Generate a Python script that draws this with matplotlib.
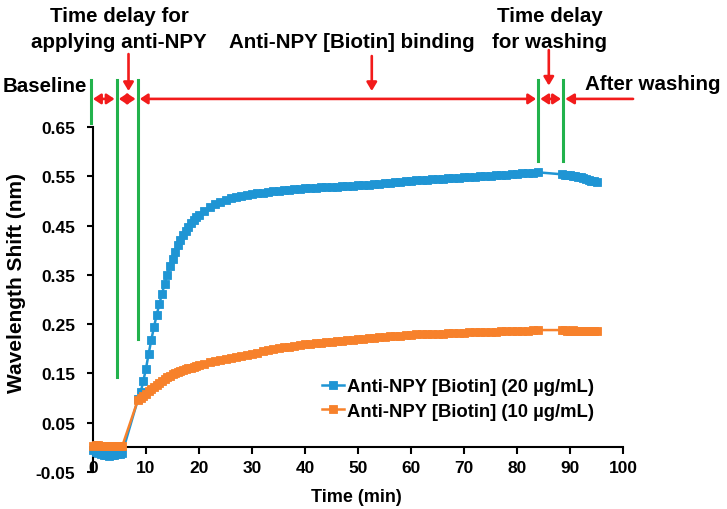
import matplotlib
matplotlib.use("Agg")
import matplotlib.pyplot as plt

plt.rcParams['font.family'] = ['Liberation Sans', 'DejaVu Sans']
plt.rcParams['font.weight'] = 'bold'

# ---------------- data ----------------
time_baseline = [0, 0.5, 1, 1.5, 2, 2.5, 3, 3.5, 4, 4.5, 5, 5.5]
time_rise = [8.5, 9, 9.5, 10, 10.5, 11, 11.5, 12, 12.5, 13, 13.5, 14, 14.5, 15,
             15.5, 16, 16.5, 17, 17.5, 18, 18.5, 19, 19.5, 20]
time_plateau = [21, 22, 23, 24, 25, 26, 27, 28, 29, 30, 31, 32, 33, 34, 35, 36,
                37, 38, 39, 40, 41, 42, 43, 44, 45, 46, 47, 48, 49, 50, 51, 52,
                53, 54, 55, 56, 57, 58, 59, 60, 61, 62, 63, 64, 65, 66, 67, 68,
                69, 70, 71, 72, 73, 74, 75, 76, 77, 78, 79, 80, 81, 82, 83, 84]
time_after = [88.5, 89, 89.5, 90, 90.5, 91, 91.5, 92, 92.5, 93, 93.5, 94, 94.5, 95]

shift20_baseline = [-0.006, -0.009, -0.011, -0.013, -0.015, -0.016, -0.017, -0.016,
                    -0.015, -0.014, -0.013, -0.012]
shift20_rise = [0.098, 0.112, 0.135, 0.160, 0.190, 0.218, 0.244, 0.268, 0.290, 0.311,
                0.331, 0.350, 0.367, 0.383, 0.397, 0.410, 0.421, 0.431, 0.440, 0.448,
                0.455, 0.461, 0.467, 0.472]
shift20_plateau = [0.480, 0.487, 0.493, 0.498, 0.502, 0.505, 0.508, 0.510, 0.512, 0.514,
                   0.516, 0.517, 0.518, 0.520, 0.521, 0.522, 0.523, 0.524, 0.525, 0.526,
                   0.526, 0.527, 0.528, 0.528, 0.529, 0.529, 0.530, 0.531, 0.531, 0.532,
                   0.533, 0.533, 0.534, 0.535, 0.536, 0.537, 0.538, 0.539, 0.540, 0.541,
                   0.542, 0.542, 0.543, 0.544, 0.544, 0.545, 0.546, 0.546, 0.547, 0.548,
                   0.548, 0.549, 0.550, 0.550, 0.551, 0.552, 0.552, 0.553, 0.554, 0.555,
                   0.556, 0.556, 0.557, 0.558]
shift20_after = [0.554, 0.553, 0.553, 0.552, 0.551, 0.550, 0.549, 0.548, 0.546, 0.545,
                 0.543, 0.541, 0.540, 0.538]

shift10_baseline = [0.003, 0.004, 0.004, 0.003, 0.003, 0.002, 0.003, 0.003, 0.002,
                    0.002, 0.003, 0.002]
shift10_rise = [0.097, 0.100, 0.104, 0.109, 0.114, 0.119, 0.123, 0.127, 0.131, 0.135,
                0.139, 0.142, 0.145, 0.148, 0.150, 0.153, 0.155, 0.157, 0.159, 0.161,
                0.162, 0.164, 0.165, 0.167]
shift10_plateau = [0.170, 0.173, 0.175, 0.177, 0.179, 0.182, 0.184, 0.186, 0.188, 0.190,
                   0.192, 0.195, 0.197, 0.199, 0.201, 0.203, 0.204, 0.206, 0.208, 0.209,
                   0.210, 0.211, 0.212, 0.213, 0.214, 0.215, 0.216, 0.217, 0.218, 0.219,
                   0.220, 0.221, 0.222, 0.223, 0.224, 0.225, 0.226, 0.226, 0.227, 0.228,
                   0.229, 0.229, 0.230, 0.230, 0.231, 0.231, 0.232, 0.232, 0.233, 0.233,
                   0.234, 0.234, 0.234, 0.235, 0.235, 0.235, 0.236, 0.236, 0.236, 0.237,
                   0.237, 0.237, 0.238, 0.238]
shift10_after = [0.238, 0.238, 0.237, 0.237, 0.238, 0.237, 0.236, 0.237, 0.237, 0.236,
                 0.237, 0.237, 0.236, 0.237]

time_min = time_baseline + time_rise + time_plateau + time_after
shift_20 = shift20_baseline + shift20_rise + shift20_plateau + shift20_after
shift_10 = shift10_baseline + shift10_rise + shift10_plateau + shift10_after

series_labels = ["Anti-NPY [Biotin] (20 µg/mL)", "Anti-NPY [Biotin] (10 µg/mL)"]
x_ticks = [0, 10, 20, 30, 40, 50, 60, 70, 80, 90, 100]
y_ticks = [-0.05, 0.05, 0.15, 0.25, 0.35, 0.45, 0.55, 0.65]
y_tick_labels = ["-0.05", "0.05", "0.15", "0.25", "0.35", "0.45", "0.55", "0.65"]

# phase boundaries (min) and lower ends of the green marker lines
phase_bounds = [-0.4, 4.47, 8.43, 84.0, 88.7]
phase_line_bottoms = [0.658, 0.143, 0.220, 0.581, 0.581]

BLUE = '#1F95D4'
ORANGE = '#F7812B'
GREEN = '#22B24C'
RED = '#F21B1B'

W, H = 727, 510
fig = plt.figure(figsize=(W / 100, H / 100), dpi=100)
ax = fig.add_axes([93 / W, 37 / H, 530 / W, 345 / H])

ax.plot(time_min, shift_20, color=BLUE, marker='s', ms=6, mec=BLUE, mew=0.6,
        lw=1.8, clip_on=False, zorder=3, label=series_labels[0])
ax.plot(time_min, shift_10, color=ORANGE, marker='s', ms=6, mec=ORANGE, mew=0.6,
        lw=1.8, clip_on=False, zorder=4, label=series_labels[1])

ax.set_xlim(0, 100)
ax.set_ylim(-0.05, 0.65)
ax.set_xticks(x_ticks)
ax.set_yticks(y_ticks)
ax.set_yticklabels(y_tick_labels)

for s in ['top', 'right']:
    ax.spines[s].set_visible(False)
ax.spines['bottom'].set_position(('data', 0))
for s in ['left', 'bottom']:
    ax.spines[s].set_linewidth(1.5)
    ax.spines[s].set_zorder(2)

ax.tick_params(axis='x', direction='out', length=5, width=1.5, labelsize=12.5, pad=4)
ax.tick_params(axis='y', direction='out', length=4, width=1.5, labelsize=12.5, pad=9)
for lab in ax.get_xticklabels() + ax.get_yticklabels():
    lab.set_fontweight('bold')

ax.set_xlabel("Time (min)", fontsize=13, fontweight='bold')
ax.xaxis.set_label_coords(0.496, -0.046)
ax.set_ylabel("Wavelength Shift (nm)", fontsize=15, fontweight='bold')
ax.yaxis.set_label_coords(-0.126, 0.551)

leg = ax.legend(loc='center left', bbox_to_anchor=(0.432, 0.212), frameon=False,
                prop={'size': 13.3, 'weight': 'bold'}, handlelength=1.2,
                handletextpad=0.15, labelspacing=0.4, borderpad=0, borderaxespad=0)

# ---------------- phase annotations ----------------
top_y = 0.745
for x, yb in zip(phase_bounds, phase_line_bottoms):
    ax.plot([x, x], [yb, top_y], color=GREEN, lw=2.2, clip_on=False, zorder=5)

arrow_y = 0.707
ap2 = dict(arrowstyle='<|-|>,head_length=0.45,head_width=0.3', color=RED, lw=1.9,
           shrinkA=0, shrinkB=0, mutation_scale=10)
ap1 = dict(arrowstyle='-|>,head_length=0.5,head_width=0.3', color=RED, lw=1.9,
           shrinkA=0, shrinkB=0, mutation_scale=10)
for a, b in zip(phase_bounds[:-1], phase_bounds[1:]):
    ax.annotate('', xy=(b - 0.4, arrow_y), xytext=(a + 0.4, arrow_y),
                arrowprops=ap2, annotation_clip=False)
ax.annotate('', xy=(89.1, arrow_y), xytext=(101.9, arrow_y), arrowprops=ap1,
            annotation_clip=False)

for x, y0, y1 in [(6.7, 0.798, 0.723), (52.6, 0.794, 0.723), (86.0, 0.806, 0.734)]:
    ax.annotate('', xy=(x, y1), xytext=(x, y0), arrowprops=ap1, annotation_clip=False)


def ftext(px, py, s, ha='center'):
    fig.text(px / W, 1 - py / H, s, ha=ha, va='center', fontsize=14.8,
             fontweight='bold')


ftext(119, 17, "Time delay for")
ftext(119, 42, "applying anti-NPY")
ftext(352, 42, "Anti-NPY [Biotin] binding")
ftext(550, 17, "Time delay")
ftext(550, 42, "for washing")
ftext(3, 87, "Baseline", ha='left')
ftext(585, 85, "After washing", ha='left')

fig.savefig("out.png", dpi=100)
